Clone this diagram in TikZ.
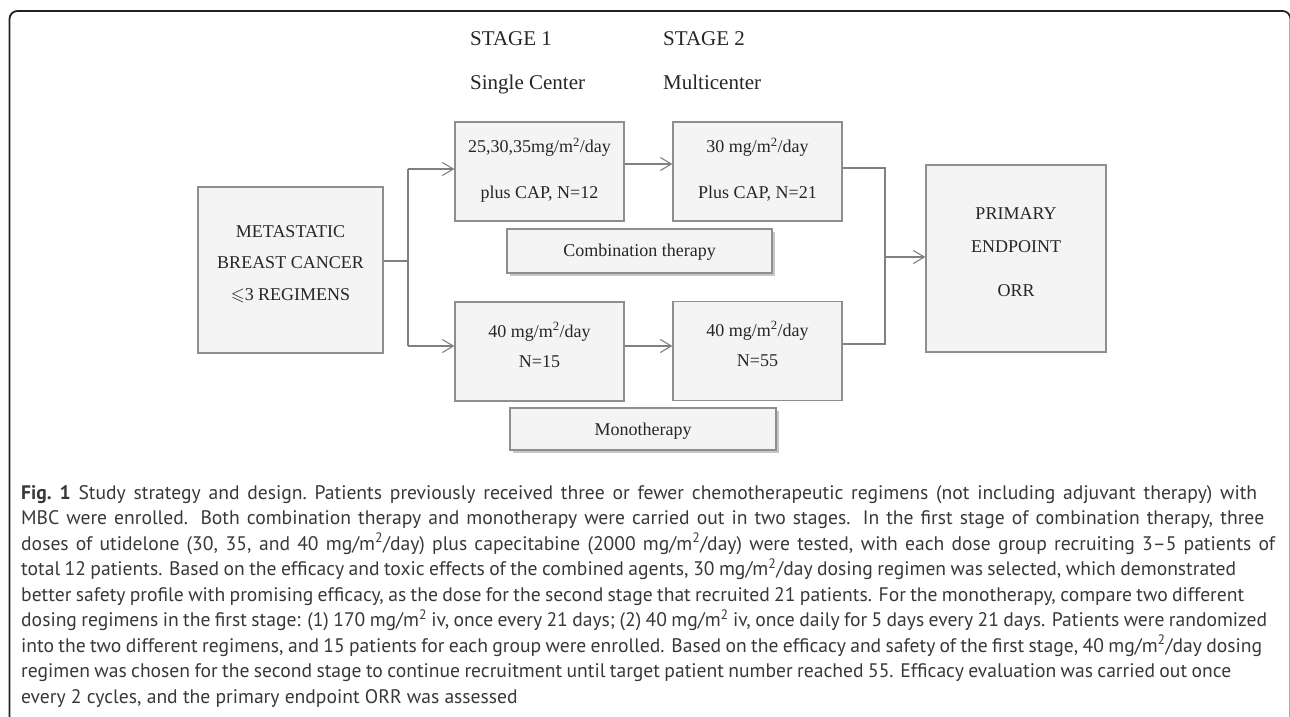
\documentclass[tikz,border=0pt]{standalone}
\usepackage{fontspec}
\usepackage{amssymb}
\setmainfont{Liberation Serif}
\newfontfamily\capfont{PT Sans}
\usetikzlibrary{arrows.meta,shadows}
\definecolor{boxfill}{HTML}{F4F4F4}
\definecolor{boxline}{HTML}{8E8E8E}
\definecolor{conn}{HTML}{808080}
\definecolor{txt}{HTML}{262626}
\definecolor{framec}{HTML}{222222}
\definecolor{captxt}{HTML}{383838}
\newcommand\capln[2]{\makebox[#1pt][s]{#2}\\}
\newcommand\capsetup{\frenchspacing\spaceskip=0.25em plus 0.6em minus 0.16em\relax}
\begin{document}
\begin{tikzpicture}[x=1pt,y=-1pt,
  box/.style={draw=boxline, line width=1.2pt, fill=boxfill, inner sep=0pt},
  shbox/.style={box, drop shadow={shadow xshift=2.5pt, shadow yshift=-3pt, fill=black, opacity=0.22}},
  btxt/.style={text=txt, align=center, inner sep=0pt, font=\fontsize{18}{21}\selectfont},
  stg/.style={text=txt, anchor=base west, inner sep=0pt, font=\fontsize{21}{24}\selectfont},
  conn/.style={draw=conn, line width=1.1pt},
  arr/.style={conn, -{Straight Barb[length=11pt,width=13pt,line width=1.1pt]}}
]
\useasboundingbox (0,0) rectangle (1290,716);
\begin{scope}
\clip (0,0) rectangle (1290,716);
\draw[framec, line width=1.8pt, rounded corners=8pt] (9.5,11) rectangle (1290.5,760);
\end{scope}

% stage labels
\node[stg] (s1) at (470,45) {STAGE 1};
\node[stg] (s1b) at (470,89) {Single Center};
\node[stg] (s2) at (663,45) {STAGE 2};
\node[stg] (s2b) at (663,89) {Multicenter};

% boxes
\node[box, minimum width=185, minimum height=166] (mbc) at (290.5,270) {};
\node[btxt] (mbct) at (290.5,264) {METASTATIC\\[10.5pt]BREAST CANCER\\[10.5pt]$\leqslant$3 REGIMENS};

\node[box, minimum width=169, minimum height=99] (a) at (539.5,171.5) {};
\node[btxt] (at) at (539.5,170) {25,30,35mg/m\textsuperscript{2}/day\\[25pt]plus CAP, N=12};

\node[box, minimum width=169, minimum height=99] (b) at (757.5,171.5) {};
\node[btxt] (bt) at (757.5,170) {30 mg/m\textsuperscript{2}/day\\[25pt]Plus CAP, N=21};

\node[shbox, minimum width=265, minimum height=44] (comb) at (639.5,251) {};
\node[btxt] (combt) at (639.5,252) {Combination therapy};

\node[box, minimum width=169, minimum height=99] (c1) at (539.5,351.5) {};
\node[btxt] (c1t) at (539.5,345) {40 mg/m\textsuperscript{2}/day\\[9pt]N=15};

\node[box, minimum width=169, minimum height=99] (c2) at (757.5,351) {};
\node[btxt] (c2t) at (757.5,344) {40 mg/m\textsuperscript{2}/day\\[9pt]N=55};

\node[shbox, minimum width=266, minimum height=42] (mono) at (643,429) {};
\node[btxt] (monot) at (643,431) {Monotherapy};

\node[box, minimum width=180, minimum height=187] (prim) at (1016,258.5) {};
\node[btxt] (primt) at (1016,252) {PRIMARY\\[12pt]ENDPOINT\\[23pt]ORR};

% connectors
\coordinate (j1) at (408,261);
\coordinate (j1a) at (408,169);
\coordinate (j1b) at (408,346);
\draw[conn] (mbc.east |- j1) -- (j1);
\draw[conn] (j1a) -- (j1b);
\draw[arr] (j1a) -- (a.west |- j1a);
\draw[arr] (j1b) -- (c1.west |- j1b);

\coordinate (ab) at (0,164);
\draw[arr] (a.east |- ab) -- (b.west |- ab);
\coordinate (cd) at (0,346);
\draw[arr] (c1.east |- cd) -- (c2.west |- cd);

\coordinate (j2a) at (885,168);
\coordinate (j2b) at (885,344);
\coordinate (j2) at (885,257);
\draw[conn] (b.east |- j2a) -- (j2a) -- (j2b) -- (c2.east |- j2b);
\draw[arr] (j2) -- (prim.west |- j2);

% caption
\node[anchor=north west, inner sep=0pt, align=left, text=captxt,
      font=\capfont\fontsize{19.6}{25.5}\selectfont] (cap) at (21,485) {\capsetup
\capln{1236}{\textbf{Fig. 1} Study strategy and design. Patients previously received three or fewer chemotherapeutic regimens (not including adjuvant therapy) with}
\capln{1243}{MBC were enrolled. Both combination therapy and monotherapy were carried out in two stages. In the first stage of combination therapy, three}
\capln{1254}{doses of utidelone (30, 35, and 40 mg/m\textsuperscript{2}/day) plus capecitabine (2000 mg/m\textsuperscript{2}/day) were tested, with each dose group recruiting 3–5 patients of}
\capln{1215}{total 12 patients. Based on the efficacy and toxic effects of the combined agents, 30 mg/m\textsuperscript{2}/day dosing regimen was selected, which demonstrated}
\capln{1223}{better safety profile with promising efficacy, as the dose for the second stage that recruited 21 patients. For the monotherapy, compare two different}
\capln{1246}{dosing regimens in the first stage: (1) 170 mg/m\textsuperscript{2} iv, once every 21 days; (2) 40 mg/m\textsuperscript{2} iv, once daily for 5 days every 21 days. Patients were randomized}
\capln{1241}{into the two different regimens, and 15 patients for each group were enrolled. Based on the efficacy and safety of the first stage, 40 mg/m\textsuperscript{2}/day dosing}
\capln{1210}{regimen was chosen for the second stage to continue recruitment until target patient number reached 55. Efficacy evaluation was carried out once}
every 2 cycles, and the primary endpoint ORR was assessed};
\end{tikzpicture}
\end{document}
